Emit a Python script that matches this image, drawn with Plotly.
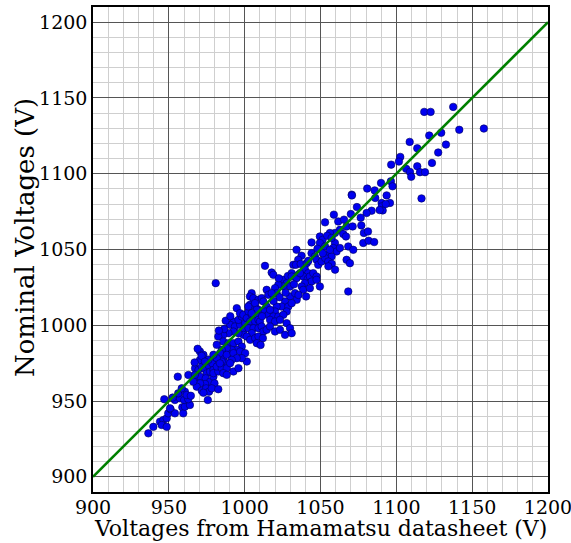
import plotly.graph_objects as go

# Voltages (x) and nominal voltages (y)
datasheet_v = [
    936.5, 939.8, 944.2, 946.4, 948.6, 945.3, 948.6, 949.6, 947.0, 951.2, 954.0, 950.8, 958.9, 959.5,
    960.6, 963.9, 954.0, 957.3, 960.1, 962.8, 956.2, 960.6, 958.5, 961.7, 955.9, 962.9, 952.5, 964.5,
    967.3, 969.5, 971.7, 973.9, 976.5, 978.7, 975.0, 977.2, 979.4, 967.3, 970.6, 974.3, 977.2, 973.9,
    970.6, 968.4, 971.7, 974.6, 976.5, 972.8, 975.7, 979.4, 980.1, 978.3, 982.6, 970.5, 972.8, 976.1,
    979.4, 982.6, 967.2, 966.1, 970.5, 971.6, 973.8, 980.4, 983.7, 985.8, 980.9, 967.0, 969.0,
    990.3, 994.8, 992.6, 990.4, 993.6, 997.0, 995.9, 998.1, 999.2, 999.2, 995.9, 992.6, 989.3, 985.9,
    982.6, 985.9, 989.3, 992.6, 995.9, 998.1, 994.8, 991.5, 988.2, 984.9, 981.6, 983.8, 988.2, 992.6,
    997.0, 1000.3, 1001.4, 998.1, 994.8, 991.5, 988.2, 984.9, 981.6, 979.4, 981.6, 984.9, 988.2, 990.4,
    985.9, 988.2, 992.6, 995.9, 983.7, 996.9, 999.1, 986.5, 983.0, 987.5, 990.5,
    1000.3, 1001.4, 1002.5, 1003.5, 1006.9, 1009.1, 1004.7, 1008.0, 1003.6, 1006.9, 1009.1, 1002.5,
    1005.8, 1009.1, 1004.7, 1001.4, 1003.6, 1006.9, 1009.1, 1008.0, 1004.6, 1003.5, 1005.7, 1009.0,
    1011.2, 1012.3, 1006.8, 1007.9, 1004.6, 1002.4, 1013.4, 1014.5, 1015.6, 1014.5, 1013.4, 1015.6,
    1010.1, 1011.2, 1012.3, 1014.5, 1011.5, 1012.0, 1010.5,
    1017.8, 1018.9, 1025.5, 1027.7, 1029.9, 1025.5, 1022.2, 1020.0, 1021.1, 1017.8, 1029.9, 1026.6,
    1024.4, 1028.8, 1027.7, 1021.1, 1020.0, 1016.7, 1018.9, 1022.2, 1025.5, 1016.7, 1020.0, 1023.3,
    1016.7, 1020.0, 1023.3, 1027.7, 1029.9, 1026.6, 1023.0, 1027.0, 1019.0, 1022.5, 1028.5,
    1032.1, 1031.0, 1035.4, 1033.2, 1034.3, 1031.0, 1031.0, 1034.2, 1037.5, 1035.3, 1033.8, 1036.9,
    1040.9, 1039.7, 1041.9, 1038.6, 1041.5, 1043.0, 1045.2, 1047.4, 1044.1, 1047.4, 1031.0, 1034.2,
    1036.5, 1039.7, 1037.6, 1038.6, 1043.0, 1049.6, 1044.1, 1046.3, 1047.4, 1048.5, 1050.7, 1044.1,
    1032.5, 1035.5, 1040.5, 1042.0,
    1049.6, 1051.4, 1049.6, 1053.0, 1059.5, 1058.4, 1060.6, 1062.8, 1068.3, 1055.1, 1057.3, 1053.0,
    1055.1, 1067.2, 1069.4, 1057.4, 1055.2, 1059.6, 1068.3, 1061.7, 1065.5, 1053.0, 1067.2, 1062.8,
    1059.5, 1056.2, 1054.4, 1057.3, 1058.8, 1065.0, 1066.8, 1056.2, 1070.6, 1070.0, 1071.2, 1071.6,
    1048.0, 1051.5,
    1076.9, 1078.6, 1081.3, 1078.2, 1081.7, 1085.4, 1080.8, 1070.7, 1086.1, 1090.3, 1095.8, 1090.5,
    1091.0, 1083.7, 1080.4, 1089.9, 1096.4, 1093.6, 1097.5, 1085.7, 1116.6, 1093.0, 1089.0, 1137.5,
    1118.4, 1122.6, 1157.7, 1141.5, 1129.6, 1121.7, 1108.8, 1132.7, 1113.8, 1127.6, 1102.6, 1101.7,
    1123.5, 1096.6, 1113.8, 1106.5, 1109.0, 1115.6, 1118.9, 1109.8, 1074.0, 1076.5,
]
nominal_v = [
    928.7, 933.0, 936.4, 937.5, 938.6, 934.2, 933.0, 941.9, 951.2, 944.5, 941.9, 945.2, 945.9, 941.9,
    946.3, 947.4, 950.7, 951.8, 950.7, 951.2, 955.1, 956.2, 958.4, 954.0, 966.1, 967.2, 952.3, 953.5,
    971.6, 970.5, 972.7, 971.0, 973.1, 974.9, 968.3, 969.4, 970.5, 965.0, 966.1, 965.0, 962.8, 961.3,
    961.7, 959.5, 956.8, 958.4, 956.2, 955.5, 950.7, 966.1, 961.7, 958.4, 957.8, 982.7, 980.5, 977.2,
    968.4, 969.5, 967.3, 962.8, 977.1, 979.8, 976.0, 979.3, 980.4, 978.3, 1027.8, 975.5, 984.5,
    981.6, 1011.3, 1002.5, 1000.3, 999.2, 1000.3, 1003.6, 1005.8, 997.0, 993.7, 994.8, 995.9, 994.8, 993.7,
    992.6, 989.3, 988.2, 988.2, 989.3, 986.0, 983.8, 983.8, 984.9, 983.8, 987.1, 981.6, 980.5, 981.6,
    982.7, 981.6, 976.1, 978.3, 978.3, 977.2, 975.0, 976.1, 978.3, 980.5, 972.8, 971.7, 971.7, 975.0,
    968.4, 967.3, 969.5, 971.7, 974.9, 1008.0, 1006.9, 997.5, 996.5, 1003.0, 1006.0,
    1001.4, 1004.7, 1009.1, 1013.5, 1012.4, 1010.2, 1006.9, 1006.9, 1002.5, 1002.5, 1003.6, 998.1,
    998.1, 998.1, 994.8, 992.6, 990.4, 991.5, 992.6, 988.2, 1021.2, 1019.0, 1017.9, 1016.8,
    1017.9, 1015.7, 1014.6, 1010.2, 1008.0, 1012.4, 1039.2, 1023.4, 1020.1, 1012.4, 1009.1, 1006.9,
    1002.5, 999.2, 995.9, 997.0, 1006.0, 991.5, 987.0,
    1034.8, 1033.3, 1030.0, 1027.8, 1025.6, 1025.6, 1026.7, 1024.5, 1021.2, 1021.2, 1019.0, 1015.7,
    1012.4, 1012.4, 1009.1, 1012.4, 1009.1, 1010.2, 1005.8, 1005.8, 1006.9, 1003.6, 1002.5, 1003.6,
    999.2, 995.9, 997.0, 1001.4, 998.1, 993.7, 1018.5, 1021.5, 1016.0, 1031.0, 1032.5,
    1039.9, 1034.4, 1033.3, 1021.2, 1016.8, 1014.6, 994.8, 1049.8, 1045.9, 1043.2, 1039.9, 1040.5,
    1041.0, 1037.0, 1034.4, 1032.2, 1030.5, 1032.2, 1034.4, 1032.2, 1028.9, 1030.0, 1032.2, 1031.1,
    1034.4, 1027.8, 1025.6, 1023.4, 1024.5, 1025.6, 1047.6, 1045.4, 1043.2, 1039.9, 1042.1, 1054.7,
    1027.0, 1020.0, 1019.0, 1042.5,
    1058.6, 1056.4, 1054.3, 1052.0, 1054.3, 1051.0, 1048.7, 1051.0, 1052.0, 1046.5, 1045.4, 1044.4,
    1042.1, 1043.2, 1041.0, 1040.6, 1038.9, 1036.7, 1022.3, 1068.5, 1069.7, 1067.9, 1065.2, 1063.0,
    1060.9, 1060.9, 1059.1, 1057.6, 1073.0, 1060.2, 1058.6, 1049.8, 1086.2, 1073.4, 1065.2, 1049.8,
    1050.5, 1047.5,
    1065.9, 1060.9, 1061.9, 1054.3, 1055.8, 1054.9, 1090.2, 1085.7, 1084.0, 1080.7, 1080.7, 1078.5,
    1075.8, 1075.6, 1074.1, 1093.9, 1095.0, 1085.7, 1091.7, 1089.0, 1083.7, 1080.0, 1076.0, 1144.1,
    1140.8, 1140.8, 1129.8, 1129.0, 1127.0, 1125.2, 1121.0, 1119.2, 1116.8, 1114.0, 1111.1, 1108.0,
    1107.1, 1106.0, 1104.9, 1103.2, 1101.2, 1101.0, 1101.0, 1098.0, 1078.0, 1071.0,
]

identity_line = [900, 1200]
tick_values = [900, 950, 1000, 1050, 1100, 1150, 1200]

FONT = "DejaVu Serif"

fig = go.Figure()
fig.add_trace(go.Scatter(
    x=datasheet_v, y=nominal_v, mode="markers",
    marker=dict(size=7.5, color="#0000f0", line=dict(color="#00005a", width=0.6)),
    showlegend=False, hoverinfo="x+y",
))
fig.add_trace(go.Scatter(
    x=identity_line, y=identity_line, mode="lines",
    line=dict(color="#008000", width=2.5), showlegend=False, hoverinfo="skip",
))

axis_common = dict(
    tickvals=tick_values,
    ticktext=[str(v) for v in tick_values],
    showgrid=True, gridcolor="#555555", gridwidth=1,
    minor=dict(dtick=10, tick0=900, showgrid=True, gridcolor="#cfcfcf", gridwidth=1, ticks=""),
    showline=True, linecolor="black", linewidth=1.5, mirror=True,
    ticks="", zeroline=False, ticklabeloverflow="allow", automargin=False,
    tickfont=dict(family=FONT, size=19, color="black"),
)

fig.update_xaxes(range=[900, 1200], ticklabelstandoff=-3, **axis_common)
fig.update_yaxes(range=[890, 1210], **axis_common)

fig.add_annotation(
    text="Voltages from Hamamatsu datasheet (V)",
    xref="paper", yref="paper", x=0.5, y=-0.076, xanchor="center", yanchor="middle",
    showarrow=False, font=dict(family=FONT, size=22, color="black"),
)
fig.add_annotation(
    text="Nominal Voltages (V)", textangle=-90,
    xref="paper", yref="paper", x=-0.149, y=0.524, xanchor="center", yanchor="middle",
    showarrow=False, font=dict(family=FONT, size=26, color="black"),
)

fig.update_layout(
    width=571, height=543,
    margin=dict(l=93, r=23, t=7, b=51),
    plot_bgcolor="white", paper_bgcolor="white",
)

fig.write_html(
    "out.html",
    config={"displayModeBar": False},
    post_script="document.body.style.margin='0';document.body.style.overflow='hidden';",
)
